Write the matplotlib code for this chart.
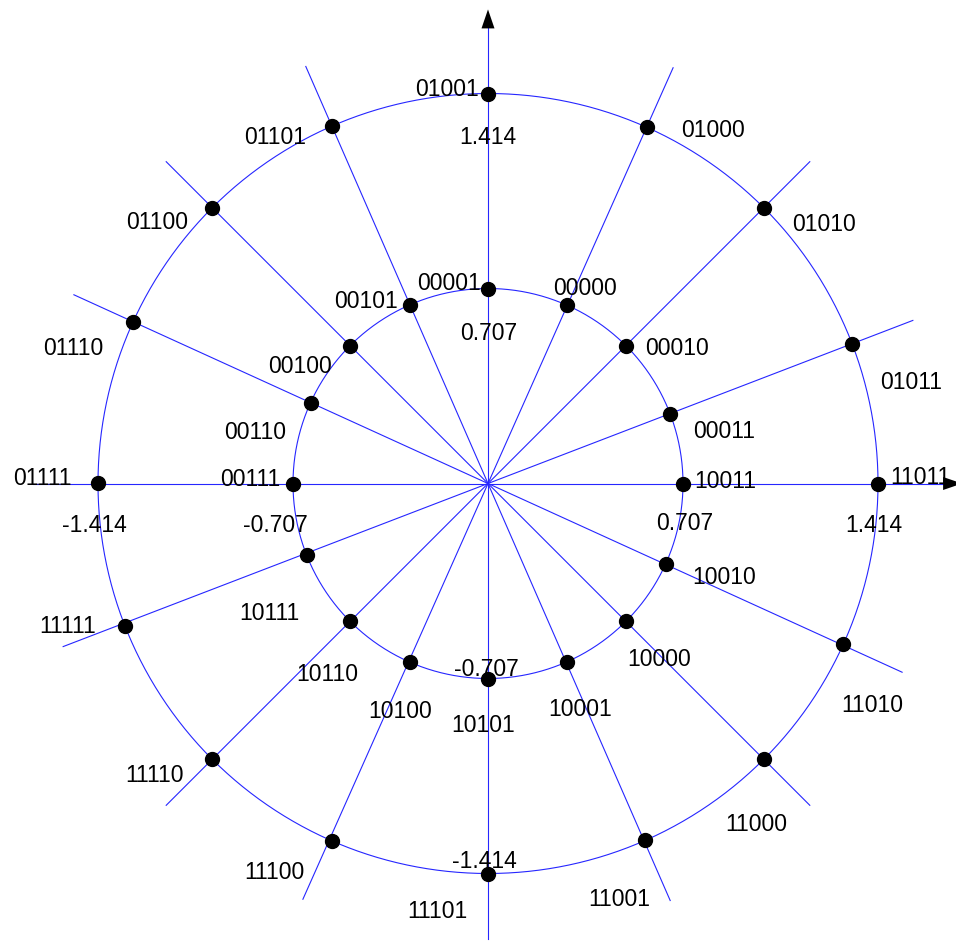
import numpy as np
import matplotlib
matplotlib.use("Agg")
import matplotlib.pyplot as plt

# ring radii and the angle of each spoke (degrees)
radii = [0.707, 1.414]
angles_deg = [0, 21, 45, 66, 90, 113.6, 135, 155.5,
              180, 201.5, 225, 246.4, 270, 293.8, 315, 335.7]

inner_labels = ["10011", "00011", "00010", "00000", "00001", "00101", "00100", "00110",
                "00111", "10111", "10110", "10100", "10101", "10001", "10000", "10010"]
outer_labels = ["11011", "01011", "01010", "01000", "01001", "01101", "01100", "01110",
                "01111", "11111", "11110", "11100", "11101", "11001", "11000", "11010"]

tick_values = [0.707, 1.414, -0.707, -1.414]
tick_labels = ["0.707", "1.414", "-0.707", "-1.414"]

# label offsets from their dot, in pixels (x right, y down)
inner_offsets = [(42, -4), (54, 15), (51, 0), (18, -19), (-39, -8), (-44, -6), (-50, 18), (-55, 27),
                 (-43, -7), (-37, 56), (-23, 51), (-10, 47), (-5, 44), (13, 45), (33, 36), (58, 11)]
outer_offsets = [(42, -8), (59, 36), (60, 14), (66, 1), (-41, -7), (-57, 9), (-55, 12), (-60, 24),
                 (-56, -7), (-58, -2), (-58, 14), (-57, 29), (-51, 36), (-26, 57), (-8, 63), (29, 59)]
xtick_offsets = {0.707: (2, 38), 1.414: (-4, 40), -0.707: (-18, 40), -1.414: (-4, 39)}
ytick_offsets = {0.707: (1, 43), 1.414: (0, 41), -0.707: (-2, -12), -1.414: (-4, -15)}

W, H = 956, 941
cx, cy = 488, 483.5          # centre in pixels
scale = 390 / 1.414          # pixels per unit
line_len = 1.65
blue = "#2626ff"
font = ["Liberation Sans", "DejaVu Sans"]
fs = 16.5


def main():
    fig = plt.figure(figsize=(W / 100, H / 100), dpi=100)
    ax = fig.add_axes([0, 0, 1, 1])
    ax.set_xlim(-cx / scale, (W - cx) / scale)
    ax.set_ylim(-(H - cy) / scale, cy / scale)
    ax.axis("off")

    theta = np.linspace(0, 2 * np.pi, 721)
    for r in radii:
        ax.plot(r * np.cos(theta), r * np.sin(theta), color=blue, lw=0.8, zorder=1)

    ang = np.deg2rad(angles_deg)
    # spokes through the centre (each pair of opposite angles gives one line)
    for a in ang[:8]:
        ax.plot([-line_len * np.cos(a), line_len * np.cos(a)],
                [-line_len * np.sin(a), line_len * np.sin(a)],
                color=blue, lw=0.8, zorder=1)

    # arrow heads on the axes
    hw, hl = 6.5 / scale, 19 / scale
    ax.fill([line_len, line_len, line_len + hl], [-hw, hw, 0], color="black", lw=0, zorder=2)
    ax.fill([-hw, hw, 0], [line_len, line_len, line_len + hl], color="black", lw=0, zorder=2)

    for r, labels, offsets in [(radii[0], inner_labels, inner_offsets),
                               (radii[1], outer_labels, outer_offsets)]:
        x = r * np.cos(ang)
        y = r * np.sin(ang)
        ax.plot(x, y, "o", color="black", ms=10, zorder=3)
        for xi, yi, lab, (dx, dy) in zip(x, y, labels, offsets):
            ax.annotate(lab, (xi, yi), xytext=(dx, -dy), textcoords="offset pixels",
                        ha="center", va="center_baseline", fontsize=fs, family=font, zorder=4)

    for v, lab in zip(tick_values, tick_labels):
        dx, dy = xtick_offsets[v]
        ax.annotate(lab, (v, 0), xytext=(dx, -dy), textcoords="offset pixels",
                    ha="center", va="center_baseline", fontsize=fs, family=font, zorder=4)
        dx, dy = ytick_offsets[v]
        ax.annotate(lab, (0, v), xytext=(dx, -dy), textcoords="offset pixels",
                    ha="center", va="center_baseline", fontsize=fs, family=font, zorder=4)

    fig.savefig("out.png", dpi=100)


if __name__ == "__main__":
    main()
